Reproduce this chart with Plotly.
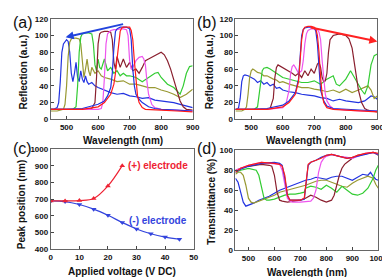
import plotly.graph_objects as go

# ---------------- Panel (a): reflection spectra, (-) side ----------------
a_blue1_wl = [450,460,470,475,480,485,490,495,500,505,510,515,520,525,530,535,540,545,550,555,560,565,570,580,590,600,620,640,660,680,700,720,740,760,780,800,820,840,860,880,900]
a_blue1_v = [12,12,14,20,45,80,90,93,95,93,80,55,45,55,68,50,45,58,48,44,52,45,42,44,40,38,35,32,30,31,28,27,25,26,23,22,21,20,18,16,14]
a_olive_wl = [450,470,490,495,500,505,510,515,520,530,540,545,550,555,560,565,570,575,580,590,600,610,620,640,660,680,700,720,740,760,780,800,820,840,860,880,900]
a_olive_v = [10,10,12,18,40,75,92,96,97,97,96,90,70,50,60,72,58,52,62,55,58,52,50,48,45,46,42,42,40,38,38,35,33,30,26,30,36]
a_green_wl = [450,500,520,530,535,540,545,550,560,570,580,585,590,595,600,605,610,620,630,640,650,660,670,680,690,700,720,740,760,780,790,800,820,840,860,870,880,890,900]
a_green_v = [12,12,12,15,40,80,98,102,103,103,102,90,65,58,72,62,60,72,58,62,55,58,52,55,52,52,50,45,50,55,56,50,42,38,30,40,55,63,64]
a_maroon_wl = [450,560,580,590,595,600,605,610,620,630,640,645,650,655,660,670,680,690,700,710,720,730,740,750,760,770,780,790,800,810,820,830,840,850,860,870,880,900]
a_maroon_v = [12,12,13,20,50,90,102,104,105,105,104,95,68,60,75,62,72,62,68,58,60,55,62,70,72,74,77,79,80,77,70,60,48,35,22,15,12,11]
a_magenta_wl = [450,600,610,615,620,625,630,640,650,660,670,680,690,695,700,705,710,720,730,740,745,750,755,760,770,780,800,850,900]
a_magenta_v = [12,12,13,20,50,90,102,106,107,107,108,108,107,100,70,60,62,70,74,75,72,65,45,30,18,14,12,11,10]
a_blue2_wl = [450,500,550,600,620,630,640,645,650,655,660,670,680,690,700,705,710,715,720,730,740,760,780,800,850,900]
a_blue2_v = [12,12,13,18,22,28,38,55,85,105,108,110,110,110,108,95,60,40,30,24,20,15,13,12,11,10]
a_red_wl = [450,500,550,600,620,640,650,655,660,665,670,675,680,690,700,705,710,715,720,725,730,740,750,780,800,850,900]
a_red_v = [12,12,12,15,20,30,42,55,70,90,105,109,110,110,110,106,95,70,45,28,20,14,12,11,11,10,9]

# ---------------- Panel (b): reflection spectra, (+) side ----------------
b_blue1_wl = [450,455,460,465,470,475,480,490,500,510,520,530,540,550,560,570,580,590,600,620,640,660,680,700,720,740,760,780,800,820,840,860,870,880,890,900]
b_blue1_v = [12,12,14,25,45,52,53,52,50,48,44,46,42,44,40,42,37,38,35,33,32,30,29,28,26,25,22,24,22,21,20,22,25,28,27,24]
b_olive_wl = [450,470,480,485,490,495,500,505,510,520,530,540,550,560,570,580,590,600,620,640,660,680,700,720,740,760,780,800,820,840,860,870,880,890,900]
b_olive_v = [10,10,12,15,30,50,58,60,59,56,55,52,52,50,48,47,44,45,42,40,38,38,36,35,33,35,32,36,32,35,38,40,35,25,28]
b_green_wl = [450,500,510,520,525,530,535,540,550,560,570,580,600,620,640,660,680,700,720,740,760,770,780,800,815,830,850,860,870,880,890,900]
b_green_v = [12,12,12,15,30,50,58,61,62,60,58,55,50,48,46,44,44,46,42,48,52,42,40,48,58,48,35,30,40,65,76,78]
b_maroon_wl = [450,550,560,570,575,580,585,590,600,610,620,630,640,650,660,670,680,690,700,710,715,720,725,730,735,740,745,750,760,770,780,790,800,810,820,830,840,850,860,870,880,900]
b_maroon_v = [12,12,13,25,50,62,65,64,62,60,58,55,52,55,50,58,52,60,55,66,68,62,50,45,46,55,80,95,100,101,102,101,100,96,85,60,35,20,13,11,10,9]
b_magenta_wl = [450,550,600,610,620,625,630,635,640,650,660,665,670,675,680,690,700,710,715,720,725,730,735,740,750,760,780,800,850,900]
b_magenta_v = [12,12,14,18,35,55,63,65,62,55,58,70,90,102,106,108,108,107,104,95,70,45,30,22,16,13,12,11,10,10]
b_blue2_wl = [450,500,550,600,620,640,650,655,660,665,670,680,690,700,705,710,715,720,730,740,760,800,850,900]
b_blue2_v = [12,12,13,17,22,32,48,75,100,107,109,110,110,109,105,90,60,35,22,16,13,12,11,10]
b_red_wl = [450,500,550,600,620,640,650,655,660,665,670,680,690,700,705,710,715,720,725,730,740,760,800,850,900]
b_red_v = [12,12,12,15,20,30,45,70,95,107,110,111,111,110,108,100,80,50,30,20,14,12,11,10,9]

# ---------------- Panel (c): peak position vs voltage ----------------
c_volt_plus = [0, 5, 10, 15, 20, 25]
c_peak_plus = [690, 690, 692, 704, 780, 902]
c_volt_minus = [0, 5, 10, 15, 20, 25, 30, 35, 40, 45]
c_peak_minus = [690, 686, 668, 640, 603, 560, 521, 492, 472, 459]

# ---------------- Panel (d): transmittance ----------------
d_blue1_wl = [450,460,470,480,490,500,520,540,560,580,600,620,640,660,680,700,720,740,760,780,800,820,840,860,880,900,920,940,960,970,980,990,1000]
d_blue1_v = [72,68,58,48,44,45,47,50,52,54,57,60,62,64,66,68,70,71,73,72,71,73,74,74,72,70,73,76,75,78,74,71,70]
d_olive_wl = [450,460,470,480,490,500,510,520,530,550,570,600,620,650,680,700,720,740,760,780,800,820,840,860,880,900,920,940,960,980,990,1000]
d_olive_v = [76,78,78,75,65,52,48,47,48,50,52,55,58,60,62,63,65,67,69,70,70,68,66,64,63,67,70,72,74,72,66,62]
d_green_wl = [450,470,500,520,530,540,550,560,570,580,600,620,640,660,680,700,715,720,740,760,780,800,820,840,860,880,900,920,940,960,980,990,1000]
d_green_v = [78,80,82,81,80,75,62,52,50,50,51,53,55,56,56,57,58,62,64,63,61,65,62,58,64,60,56,55,57,62,72,80,85]
d_maroon_wl = [450,470,500,550,580,590,600,610,620,630,650,680,700,720,740,760,780,800,820,830,840,850,860,870,880,900,920,940,960,980,1000]
d_maroon_v = [80,82,84,86,85,84,75,58,50,49,48,49,50,52,55,53,50,48,50,55,65,75,82,86,88,92,95,96,97,98,95]
d_magenta_wl = [450,470,500,550,600,620,630,640,650,660,670,700,740,750,760,770,780,790,800,820,850,880,900,920,950,980,1000]
d_magenta_v = [80,82,85,88,87,86,80,65,52,49,48,48,49,52,60,78,88,92,94,96,94,93,92,94,97,98,96]
d_red_wl = [450,470,500,550,600,620,630,640,650,660,680,700,715,720,725,730,740,760,780,800,820,850,880,900,920,950,980,1000]
d_red_v = [78,82,85,88,87,86,84,75,55,50,50,50,52,65,80,86,88,90,92,95,96,94,92,93,95,97,98,97]
d_blue2_wl = [450,470,500,550,600,620,630,640,650,660,680,700,715,720,725,730,740,760,780,800,820,850,880,900,920,950,980,1000]
d_blue2_v = [78,81,84,87,88,87,85,72,55,50,50,50,51,62,78,85,88,90,93,95,96,94,92,93,94,96,98,96]

# arrows / labels (data coordinates)
arrow_a_tail = (684, 114); arrow_a_head = (497, 98)
arrow_b_tail = (684, 110); arrow_b_head = (900, 93)
label_plus = (37.5, 905); label_minus = (37.5, 570)

BLUE = "#2233e0"; OLIVE = "#999933"; GREEN = "#33cc33"; MAROON = "#8a1f2e"
MAGENTA = "#ee55ee"; RED = "#ff1a1a"

fig = go.Figure()

def add(wl, v, color, xa, ya):
    fig.add_trace(go.Scatter(x=wl, y=v, mode="lines", line=dict(color=color, width=1.2),
                             xaxis=xa, yaxis=ya, showlegend=False, hoverinfo="skip"))

for wl, v, c in [(a_blue1_wl, a_blue1_v, BLUE), (a_olive_wl, a_olive_v, OLIVE), (a_green_wl, a_green_v, GREEN),
                 (a_maroon_wl, a_maroon_v, MAROON), (a_magenta_wl, a_magenta_v, MAGENTA),
                 (a_blue2_wl, a_blue2_v, BLUE), (a_red_wl, a_red_v, RED)]:
    add(wl, v, c, "x", "y")
for wl, v, c in [(b_blue1_wl, b_blue1_v, BLUE), (b_olive_wl, b_olive_v, OLIVE), (b_green_wl, b_green_v, GREEN),
                 (b_maroon_wl, b_maroon_v, MAROON), (b_magenta_wl, b_magenta_v, MAGENTA),
                 (b_blue2_wl, b_blue2_v, BLUE), (b_red_wl, b_red_v, RED)]:
    add(wl, v, c, "x2", "y2")
for wl, v, c in [(d_blue1_wl, d_blue1_v, BLUE), (d_olive_wl, d_olive_v, OLIVE), (d_green_wl, d_green_v, GREEN),
                 (d_maroon_wl, d_maroon_v, MAROON), (d_magenta_wl, d_magenta_v, MAGENTA),
                 (d_blue2_wl, d_blue2_v, BLUE), (d_red_wl, d_red_v, RED)]:
    add(wl, v, c, "x4", "y4")

fig.add_trace(go.Scatter(x=c_volt_minus, y=c_peak_minus, mode="lines+markers",
                         line=dict(color="#3344dd", width=1.2, shape="spline"),
                         marker=dict(symbol="triangle-down", size=5, color="#3344dd"),
                         xaxis="x3", yaxis="y3", showlegend=False, hoverinfo="skip"))
fig.add_trace(go.Scatter(x=c_volt_plus, y=c_peak_plus, mode="lines+markers",
                         line=dict(color="#ee2233", width=1.2, shape="spline"),
                         marker=dict(symbol="triangle-up", size=5, color="#ee2233"),
                         xaxis="x3", yaxis="y3", showlegend=False, hoverinfo="skip"))

W, H = 390, 277
def dx(p0, p1): return [p0 / W, p1 / W]
def dy(p0, p1): return [1 - p1 / H, 1 - p0 / H]

TICKFONT = dict(family="Liberation Sans Narrow, Arial Narrow, Liberation Sans, Arial", size=8, color="#111")
TITLEFONT = dict(family="Liberation Sans, Arial", size=10, color="#111")

def axis(domain, rng, anchor, tickvals):
    return dict(domain=domain, range=rng, showgrid=False, zeroline=False, showline=True, mirror=True,
                linecolor="#666", linewidth=1, ticks="inside", ticklen=3, tickcolor="#444",
                tickfont=TICKFONT, anchor=anchor, tickvals=tickvals,
                ticktext=["<b>%d</b>" % t for t in tickvals])

wl_ticks = [500, 600, 700, 800, 900]
wl_ticks_d = [500, 600, 700, 800, 900, 1000]
refl_ticks = [0, 20, 40, 60, 80, 100, 120]
volt_ticks = [0, 10, 20, 30, 40, 50]
peak_ticks = [400, 500, 600, 700, 800, 900, 1000]
trans_ticks = [0, 20, 40, 60, 80, 100]

fig.update_layout(
    width=W, height=H, margin=dict(l=0, r=0, t=0, b=0),
    paper_bgcolor="white", plot_bgcolor="white",
    xaxis=axis(dx(42, 188), [450, 900], "y", wl_ticks),
    yaxis=axis(dy(7, 111), [0, 120], "x", refl_ticks),
    xaxis2=axis(dx(232, 378), [450, 900], "y2", wl_ticks),
    yaxis2=axis(dy(7, 111), [0, 120], "x2", refl_ticks),
    xaxis3=axis(dx(42, 189), [0, 50], "y3", volt_ticks),
    yaxis3=axis(dy(142, 245), [400, 1000], "x3", peak_ticks),
    xaxis4=axis(dx(232, 379), [450, 1000], "y4", wl_ticks_d),
    yaxis4=axis(dy(143, 246), [0, 100], "x4", trans_ticks),
)

ann = []
for txt, px, py in [("(a)", 13, 11), ("(b)", 203, 11), ("(c)", 13, 141), ("(d)", 203, 141)]:
    ann.append(dict(text=txt, x=px / W, y=1 - py / H, xref="paper", yref="paper", showarrow=False,
                    xanchor="center", yanchor="middle",
                    font=dict(family="Liberation Sans, Arial", size=16, color="#111")))
# axis titles
for txt, px, py, ang in [("Wavelength (nm)", 116, 133, 0), ("Wavelength (nm)", 305, 133, 0),
                         ("Applied voltage (V DC)", 115, 268, 0), ("Wavelength (nm)", 306, 269, 0),
                         ("Reflection (a.u.)", 14, 62, -90), ("Reflection (a.u.)", 206, 62, -90),
                         ("Peak position (nm)", 12, 199, -90), ("Transmittance (%)", 207, 196, -90)]:
    ann.append(dict(text="<b>%s</b>" % txt, x=px / W, y=1 - py / H, xref="paper", yref="paper",
                    showarrow=False, xanchor="center", yanchor="middle", textangle=ang,
                    font=TITLEFONT))
ann.append(dict(x=arrow_a_head[0], y=arrow_a_head[1], ax=arrow_a_tail[0], ay=arrow_a_tail[1],
                xref="x", yref="y", axref="x", ayref="y", showarrow=True, arrowhead=2,
                arrowsize=0.8, arrowwidth=2, arrowcolor="#2244dd", text=""))
ann.append(dict(x=arrow_b_head[0], y=arrow_b_head[1], ax=arrow_b_tail[0], ay=arrow_b_tail[1],
                xref="x2", yref="y2", axref="x2", ayref="y2", showarrow=True, arrowhead=2,
                arrowsize=0.8, arrowwidth=2, arrowcolor="#ff2222", text=""))
ann.append(dict(text="<b>(+) electrode</b>", x=label_plus[0], y=label_plus[1], xref="x3", yref="y3",
                showarrow=False, font=dict(family="Liberation Sans, Arial", size=10, color="#ee2233")))
ann.append(dict(text="<b>(-) electrode</b>", x=label_minus[0], y=label_minus[1], xref="x3", yref="y3",
                showarrow=False, font=dict(family="Liberation Sans, Arial", size=10, color="#3344dd")))
fig.update_layout(annotations=ann)

fig.write_html("out.html")
